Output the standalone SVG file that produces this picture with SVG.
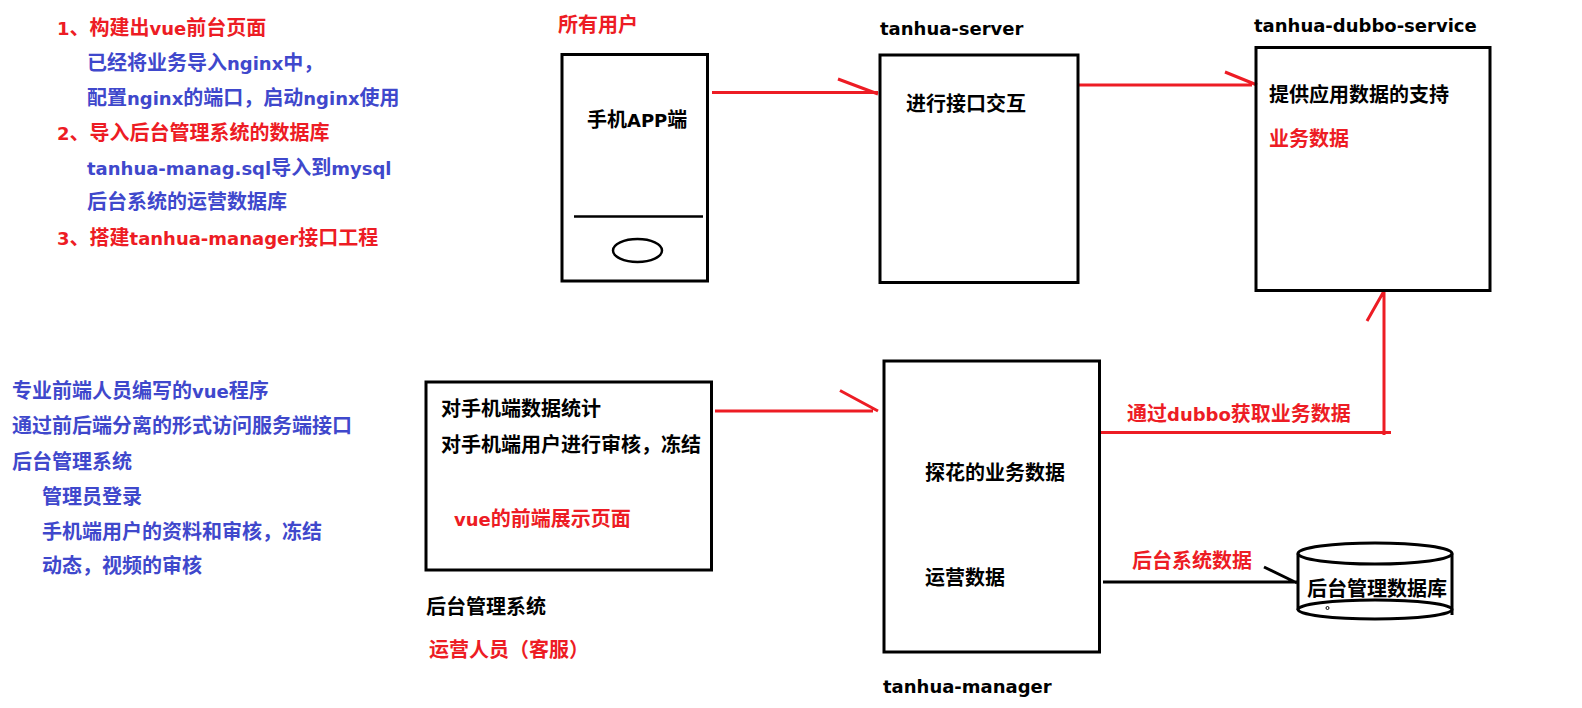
<svg xmlns="http://www.w3.org/2000/svg" width="1582" height="708" viewBox="0 0 1582 708">
<style>
text{font-family:"Noto Sans CJK SC","DejaVu Sans",sans-serif;font-weight:700;font-size:20px}
.l{font-family:"DejaVu Sans",sans-serif;font-size:18px}
.k{fill:#000}.r{fill:#ed1c24}.b{fill:#3f48cc}
.box{fill:none;stroke:#000;stroke-width:3}
.thin{fill:none;stroke:#000;stroke-width:2.5}
.red{fill:none;stroke:#ed1c24;stroke-width:3}
.blk{fill:none;stroke:#000;stroke-width:3}
</style>
<rect width="1582" height="708" fill="#fff"/>
<g id="notes-top">
<text class="r" x="57" y="35"><tspan class="l">1</tspan>、构建出<tspan class="l">vue</tspan>前台页面</text>
<text class="b" x="87" y="70">已经将业务导入<tspan class="l">nginx</tspan>中，</text>
<text class="b" x="87" y="105">配置<tspan class="l">nginx</tspan>的端口，启动<tspan class="l">nginx</tspan>使用</text>
<text class="r" x="57" y="140"><tspan class="l">2</tspan>、导入后台管理系统的数据库</text>
<text class="b" x="87" y="175"><tspan class="l">tanhua-manag.sql</tspan>导入到<tspan class="l">mysql</tspan></text>
<text class="b" x="87" y="209">后台系统的运营数据库</text>
<text class="r" x="57" y="245"><tspan class="l">3</tspan>、搭建<tspan class="l">tanhua-manager</tspan>接口工程</text>
</g>
<g id="notes-bottom">
<text class="b" x="12" y="398">专业前端人员编写的<tspan class="l">vue</tspan>程序</text>
<text class="b" x="12" y="433">通过前后端分离的形式访问服务端接口</text>
<text class="b" x="12" y="469">后台管理系统</text>
<text class="b" x="42" y="504">管理员登录</text>
<text class="b" x="42" y="539">手机端用户的资料和审核，冻结</text>
<text class="b" x="42" y="573">动态，视频的审核</text>
</g>
<g id="connectors">
<path class="red" d="M712 92.500H878M838 79L878 94"/>
<path class="red" d="M1078 85H1252M1225 72L1257 85"/>
<path class="red" d="M715 411H873M840 390.500L878 411"/>
<path class="red" d="M1098 432.500H1391M1384 435V291M1367 321L1384 291"/>
<path class="blk" d="M1103 582H1297M1264 567L1297 583"/>
</g>
<g id="node-phone">
<text class="r" x="558" y="32">所有用户</text>
<rect class="box" x="562" y="54.500" width="145.500" height="226.500"/>
<path class="thin" d="M574 216.500H703"/>
<ellipse class="thin" cx="637.500" cy="250.500" rx="24.500" ry="11.500"/>
<text class="k" x="587" y="127">手机<tspan class="l">APP</tspan>端</text>
</g>
<g id="node-server">
<text class="k l" x="880" y="35">tanhua-server</text>
<rect class="box" x="880" y="55" width="198" height="227.500"/>
<text class="k" x="906" y="111">进行接口交互</text>
</g>
<g id="node-dubbo">
<text class="k l" x="1254" y="32">tanhua-dubbo-service</text>
<rect class="box" x="1256" y="47.500" width="234" height="243"/>
<text class="k" x="1269" y="102">提供应用数据的支持</text>
<text class="r" x="1269" y="146">业务数据</text>
</g>
<g id="node-admin">
<rect class="box" x="426" y="382" width="285.500" height="188"/>
<text class="k" x="441" y="416">对手机端数据统计</text>
<text class="k" x="441" y="452">对手机端用户进行审核，冻结</text>
<text class="r" x="454" y="526"><tspan class="l">vue</tspan>的前端展示页面</text>
<text class="k" x="426" y="614">后台管理系统</text>
<text class="r" x="429" y="657">运营人员（客服）</text>
</g>
<g id="node-manager">
<rect class="box" x="884" y="361" width="215.500" height="291"/>
<text class="k" x="925" y="480">探花的业务数据</text>
<text class="k" x="925" y="585">运营数据</text>
<text class="k l" x="883" y="693">tanhua-manager</text>
</g>
<g id="label-dubbo"><text class="r" x="1127" y="421">通过<tspan class="l">dubbo</tspan>获取业务数据</text></g>
<g id="label-admin-data"><text class="r" x="1132" y="568">后台系统数据</text></g>
<g id="node-db">
<ellipse class="blk" cx="1375" cy="553.500" rx="77" ry="10.500"/>
<path class="blk" d="M1298 553.500V610M1452 553.500V615"/>
<ellipse class="blk" cx="1375" cy="609.500" rx="77" ry="9.500"/>
<circle cx="1327.500" cy="608" r="1.500" fill="none" stroke="#000" stroke-width="1"/>
<text class="k" x="1307" y="596">后台管理数据库</text>
</g>
</svg>
